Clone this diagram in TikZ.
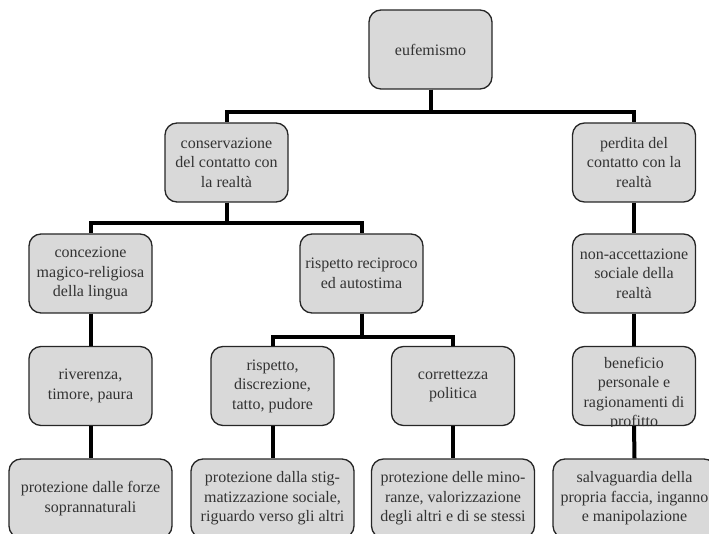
\documentclass[tikz,border=0pt]{standalone}
\usepackage{fontspec}
\setmainfont{Liberation Serif}
\definecolor{boxfill}{HTML}{D9D9D9}
\definecolor{boxline}{HTML}{262626}
\definecolor{textcol}{HTML}{333333}
\begin{document}
\begin{tikzpicture}[x=1pt,y=-1pt,
  txt/.style={align=center,font=\fontsize{16}{19.5}\selectfont,text=textcol,inner sep=0pt},
  box/.style={txt,draw=boxline,fill=boxfill,line width=1.3pt,rounded corners=12pt,
    minimum width=123pt,minimum height=79pt},
  widebox/.style={box,minimum width=163pt},
  link/.style={line width=4pt,draw=black}]
\useasboundingbox (0,0) rectangle (709,534);
% row 1
\node[box] (eu) at (430.5,49.5) {eufemismo};
% row 2
\node[box] (cons) at (226.5,162.5) {conservazione\\del contatto con\\la realtà};
\node[box] (perd) at (634,162.5) {perdita del\\contatto con la\\realtà};
% row 3
\node[box] (conc) at (90.5,273.5) {concezione\\magico-religiosa\\della lingua};
\node[box] (risp) at (361.5,273.5) {rispetto reciproco\\ed autostima};
\node[box] (nonacc) at (634,273.5) {non-accettazione\\sociale della\\realtà};
% row 4
\node[box] (riv) at (90.5,386) {riverenza,\\timore, paura};
\node[box] (rdt) at (272.5,386) {rispetto,\\discrezione,\\tatto, pudore};
\node[box] (corr) at (453,386) {correttezza\\politica};
\node[box] (ben) at (634,386) {};
\begin{scope}
  \clip[rounded corners=11pt] ([shift={(0.7pt,-0.7pt)}]ben.south west) rectangle ([shift={(-0.7pt,0.7pt)}]ben.north east);
  \node[txt] (bentext) at (634,393.5) {beneficio\\personale e\\ragionamenti di\\profitto};
\end{scope}
% row 5
\node[widebox] (p1) at (90.5,498.5) {protezione dalle forze\\soprannaturali};
\node[widebox] (p2) at (272.5,498.5) {protezione dalla stig-\\matizzazione sociale,\\riguardo verso gli altri};
\node[widebox] (p3) at (453,498.5) {protezione delle mino-\\ranze, valorizzazione\\degli altri e di se stessi};
\node[widebox] (p4) at (634.5,498.5) {salvaguardia della\\propria faccia, inganno\\e manipolazione};
% connectors
\draw[link] (eu.south) -- ++(0,22) -| (cons.north);
\draw[link] (eu.south) -- ++(0,22) -| (perd.north);
\draw[link] (cons.south) -- ++(0,20) -| (conc.north);
\draw[link] (cons.south) -- ++(0,20) -| (risp.north);
\draw[link] (risp.south) -- ++(0,23) -| (rdt.north);
\draw[link] (risp.south) -- ++(0,23) -| (corr.north);
\draw[link] (perd.south) -- (nonacc.north);
\draw[link] (nonacc.south) -- (ben.north);
\draw[link] (conc.south) -- (riv.north);
\draw[link] (riv.south) -- (p1.north);
\draw[link] (rdt.south) -- (p2.north);
\draw[link] (corr.south) -- (p3.north);
\draw[link] (ben.south) -- (p4.north);
\end{tikzpicture}
\end{document}
